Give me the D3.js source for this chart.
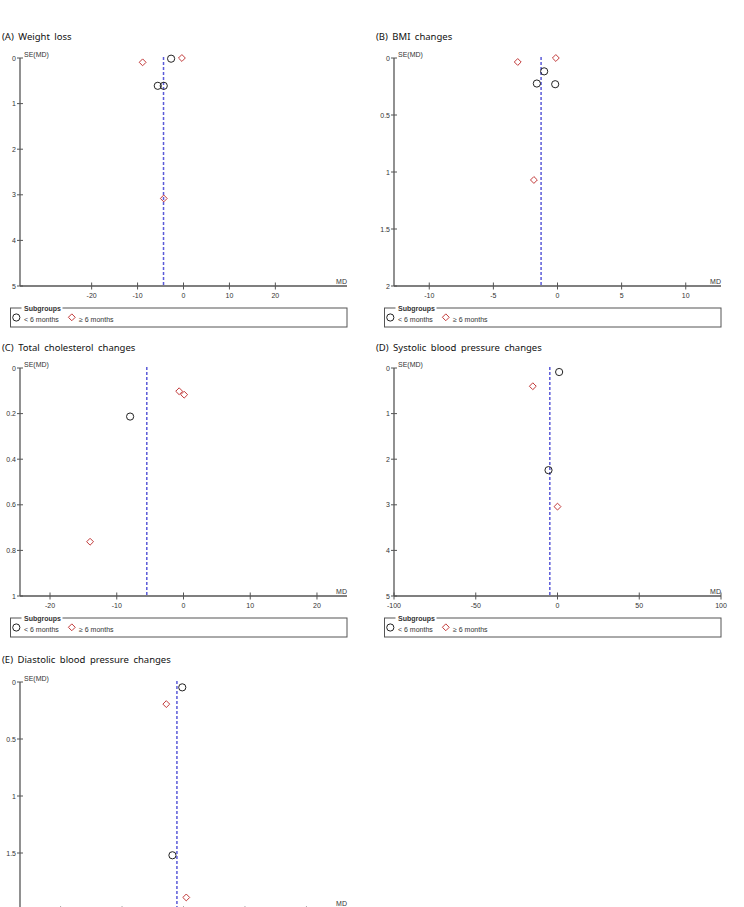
<!DOCTYPE html>
<html>
<head>
<meta charset="utf-8">
<script src="https://cdn.jsdelivr.net/npm/d3@7"></script>
<style>
  body { margin: 0; background: #fff; }
  svg { display: block; }
  .title { font-family: "Noto Sans", sans-serif; font-size: 9.5px; fill: #111; word-spacing: 2px; }
  .tick-label, .axis-name { font-family: "Liberation Sans", Arial, sans-serif; font-size: 7px; fill: #333; }
  .legend-title { font-family: "Liberation Sans", Arial, sans-serif; font-size: 7px; font-weight: bold; fill: #333; }
</style>
</head>
<body>
<div id="chart"></div>
<script>
// panel titles
const titles = [
  "(A) Weight loss",
  "(B) BMI changes",
  "(C) Total cholesterol changes",
  "(D) Systolic blood pressure changes",
  "(E) Diastolic blood pressure changes"
];

// studies as [MD, SE(MD)], split by follow-up subgroup
const weightLt6 = [[-2.7, 0.015], [-5.6, 0.61], [-4.3, 0.61]];
const weightGe6 = [[-0.35, 0.0], [-8.9, 0.095], [-4.3, 3.08]];
const bmiLt6 = [[-1.04, 0.117], [-1.61, 0.224], [-0.18, 0.23]];
const bmiGe6 = [[-0.13, 0.0], [-3.1, 0.035], [-1.84, 1.07]];
const cholLt6 = [[-8.0, 0.213]];
const cholGe6 = [[-0.65, 0.102], [0.1, 0.117], [-14.0, 0.762]];
const sbpLt6 = [[1.0, 0.088], [-5.5, 2.24]];
const sbpGe6 = [[-15.1, 0.4], [0.0, 3.04]];
const dbpLt6 = [[-0.2, 0.047], [-1.8, 1.52]];
const dbpGe6 = [[-2.8, 0.194], [0.45, 1.89]];

// pooled estimate (dashed line)
const pooledMD = [-4.35, -1.28, -5.5, -4.7, -1.07];

// axis settings
const xLimit = [35.6, 12.75, 24.5, 100, 26.6];
const seMax = [5, 2, 1, 5, 2];
const xTicks = [
  [-20, -10, 0, 10, 20],
  [-10, -5, 0, 5, 10],
  [-20, -10, 0, 10, 20],
  [-100, -50, 0, 50, 100],
  [-20, -10, 0, 10, 20]
];
const yTicks = [
  [0, 1, 2, 3, 4, 5],
  [0, 0.5, 1, 1.5, 2],
  [0, 0.2, 0.4, 0.6, 0.8, 1],
  [0, 1, 2, 3, 4, 5],
  [0, 0.5, 1, 1.5, 2]
];
const legendLabels = ["< 6 months", "\u2265 6 months"];

const lt6 = [weightLt6, bmiLt6, cholLt6, sbpLt6, dbpLt6];
const ge6 = [weightGe6, bmiGe6, cholGe6, sbpGe6, dbpGe6];

// layout
const W = 744, H = 907;
const colX = [20, 394];
const rowTop = [58, 368, 682];
const titleBase = [40, 351, 663];
const plotW = 327, plotH = 228;
const axisColor = "#555";
const circleColor = "#222";
const diamondColor = "#c23a3a";
const pooledColor = "#5a5ad8";

const svg = d3.select("#chart").append("svg")
  .attr("width", W)
  .attr("height", H);

const diamond = d3.symbol().type(d3.symbolDiamond2).size(30);

// the last panel runs past the bottom of the page, skip text that would be off it
const onPage = yPos => yPos < H;

titles.forEach((title, i) => {
  const col = i % 2, row = Math.floor(i / 2);
  const x0 = colX[col], y0 = rowTop[row];

  const x = d3.scaleLinear().domain([-xLimit[i], xLimit[i]]).range([x0, x0 + plotW]);
  const y = d3.scaleLinear().domain([0, seMax[i]]).range([y0, y0 + plotH]);
  const g = svg.append("g");

  g.append("text").attr("class", "title")
    .attr("x", x0 - 18).attr("y", titleBase[row])
    .text(title);

  // axes lines
  g.append("line")
    .attr("x1", x0).attr("x2", x0)
    .attr("y1", y(0)).attr("y2", y(seMax[i]))
    .attr("stroke", axisColor).attr("stroke-width", 1.3);
  g.append("line")
    .attr("x1", x0).attr("x2", x0 + plotW)
    .attr("y1", y(seMax[i])).attr("y2", y(seMax[i]))
    .attr("stroke", axisColor).attr("stroke-width", 1.3);

  // y ticks (cross the axis)
  yTicks[i].forEach(t => {
    g.append("line")
      .attr("x1", x0 - 3).attr("x2", x0 + 3)
      .attr("y1", y(t)).attr("y2", y(t))
      .attr("stroke", axisColor).attr("stroke-width", 1);
    if (onPage(y(t) + 2.5))
      g.append("text").attr("class", "tick-label")
        .attr("x", x0 - 4).attr("y", y(t) + 2.5)
        .attr("text-anchor", "end")
        .text(t);
  });

  // x ticks
  const xb = y(seMax[i]);
  xTicks[i].forEach(t => {
    g.append("line")
      .attr("x1", x(t)).attr("x2", x(t))
      .attr("y1", xb - 3.5).attr("y2", xb + 3.5)
      .attr("stroke", axisColor).attr("stroke-width", 1);
    if (onPage(xb + 11.5))
      g.append("text").attr("class", "tick-label")
        .attr("x", x(t)).attr("y", xb + 11.5)
        .attr("text-anchor", "middle")
        .text(t);
  });

  g.append("text").attr("class", "axis-name")
    .attr("x", x0 + 4).attr("y", y(0) - 1)
    .text("SE(MD)");
  g.append("text").attr("class", "axis-name")
    .attr("x", x0 + plotW).attr("y", Math.min(xb - 2.5, H - 1))
    .attr("text-anchor", "end")
    .text("MD");

  // pooled effect
  g.append("line")
    .attr("x1", x(pooledMD[i])).attr("x2", x(pooledMD[i]))
    .attr("y1", y(0) - 1).attr("y2", xb)
    .attr("stroke", pooledColor).attr("stroke-width", 1.5)
    .attr("stroke-dasharray", "3,2");

  // studies
  g.selectAll("circle.study").data(lt6[i]).join("circle")
    .attr("class", "study")
    .attr("cx", d => x(d[0])).attr("cy", d => y(d[1]))
    .attr("r", 3.6)
    .attr("fill", "none").attr("stroke", circleColor).attr("stroke-width", 1);

  g.selectAll("path.study").data(ge6[i]).join("path")
    .attr("class", "study")
    .attr("d", diamond)
    .attr("transform", d => `translate(${x(d[0])},${y(d[1])})`)
    .attr("fill", "none").attr("stroke", diamondColor).attr("stroke-width", 1);

  // legend box (panel E has it below the page edge)
  const ly = xb + 22;
  if (!onPage(ly)) return;
  g.append("rect")
    .attr("x", x0 - 9.5).attr("y", ly)
    .attr("width", plotW + 9.5).attr("height", 19)
    .attr("fill", "none").attr("stroke", axisColor).attr("stroke-width", 1);
  g.append("rect")
    .attr("x", x0 + 1.5).attr("y", ly - 4)
    .attr("width", 41).attr("height", 8)
    .attr("fill", "#fff");
  g.append("text").attr("class", "legend-title")
    .attr("x", x0 + 4).attr("y", ly + 2.5)
    .text("Subgroups");
  g.append("circle")
    .attr("cx", x0 - 3.7).attr("cy", ly + 9.5).attr("r", 3.6)
    .attr("fill", "none").attr("stroke", circleColor).attr("stroke-width", 1);
  g.append("text").attr("class", "tick-label")
    .attr("x", x0 + 4).attr("y", ly + 13.5)
    .text(legendLabels[0]);
  g.append("path")
    .attr("d", diamond)
    .attr("transform", `translate(${x0 + 51.8},${ly + 9.3})`)
    .attr("fill", "none").attr("stroke", diamondColor).attr("stroke-width", 1);
  g.append("text").attr("class", "tick-label")
    .attr("x", x0 + 59).attr("y", ly + 13.5)
    .text(legendLabels[1]);
});
</script>
</body>
</html>
